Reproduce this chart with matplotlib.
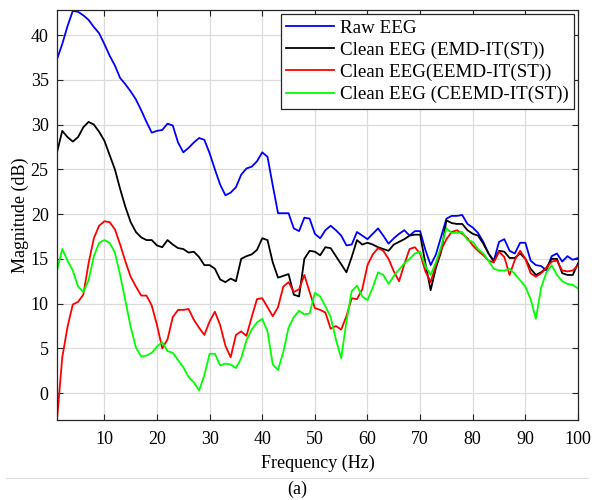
import numpy as np
import matplotlib
matplotlib.use('Agg')
import matplotlib.pyplot as plt
from matplotlib.lines import Line2D

plt.rcParams['font.family'] = ['Liberation Serif', 'DejaVu Serif']

# Frequency axis (Hz)
freq = np.arange(1, 101)

raw_eeg = [37.3, 39.0, 41.0, 42.7, 42.6, 42.2, 41.7, 40.9, 40.2, 39.0,
           37.7, 36.6, 35.2, 34.5, 33.7, 32.8, 31.6, 30.3, 29.1, 29.3,
           29.4, 30.1, 29.9, 28.0, 26.9, 27.4, 28.0, 28.5, 28.3, 26.8,
           25.0, 23.3, 22.1, 22.4, 23.0, 24.4, 25.1, 25.3, 25.9, 26.9,
           26.4, 23.2, 20.1, 20.1, 20.1, 18.4, 18.1, 19.6, 19.5, 17.8,
           17.3, 18.2, 18.7, 18.2, 17.6, 16.5, 16.6, 18.0, 17.6, 17.2,
           17.8, 18.4, 17.6, 16.7, 17.3, 17.8, 18.2, 17.6, 18.1, 18.1,
           16.0, 14.3, 15.5, 17.5, 19.5, 19.8, 19.8, 19.9, 18.9, 18.5,
           17.9, 16.9, 15.6, 14.8, 16.9, 17.2, 15.9, 15.6, 16.8, 16.8,
           14.8, 14.3, 14.2, 13.7, 15.3, 15.6, 14.7, 15.3, 14.9, 15.1]

emd_it = [26.9, 29.3, 28.6, 28.1, 28.6, 29.7, 30.3, 30.0, 29.2, 28.2,
          26.6, 25.0, 22.8, 20.8, 19.1, 18.0, 17.4, 17.1, 17.1, 16.5,
          16.3, 17.1, 16.6, 16.2, 16.1, 15.7, 15.8, 15.2, 14.3, 14.3,
          13.9, 12.7, 12.4, 12.8, 12.5, 15.0, 15.3, 15.5, 16.0, 17.3,
          17.1, 14.6, 12.9, 13.1, 13.3, 11.0, 10.8, 15.0, 15.9, 15.8,
          15.4, 16.3, 16.2, 15.3, 14.4, 13.5, 15.2, 17.1, 16.6, 16.8,
          16.6, 16.3, 16.1, 15.9, 16.6, 16.9, 17.2, 17.6, 17.7, 17.7,
          14.5, 11.5, 14.0, 15.8, 19.3, 19.0, 18.9, 18.9, 18.2, 17.8,
          17.6, 16.7, 15.6, 14.7, 15.9, 15.8, 15.1, 15.1, 15.6, 15.0,
          13.9, 13.2, 13.5, 14.0, 15.0, 15.0, 13.4, 13.2, 13.2, 14.5]

eemd_it = [-3.0, 4.0, 7.4, 9.9, 10.2, 11.0, 14.5, 17.3, 18.7, 19.2,
           19.1, 18.3, 16.6, 14.7, 13.0, 11.9, 10.9, 10.9, 9.8, 7.6,
           5.0, 6.0, 8.5, 9.3, 9.3, 9.4, 8.2, 7.3, 6.5, 8.0,
           9.1, 7.6, 5.3, 4.0, 6.5, 6.9, 6.4, 8.5, 10.5, 10.6,
           9.6, 8.6, 9.6, 11.9, 12.4, 11.3, 11.6, 13.2, 11.3, 9.5,
           9.3, 9.0, 7.2, 7.5, 7.1, 8.6, 10.6, 10.5, 11.6, 14.3,
           15.5, 16.2, 15.9, 15.0, 13.6, 12.5, 14.4, 16.1, 16.3, 15.6,
           13.6, 12.4, 14.3, 16.0, 17.2, 18.0, 18.2, 17.8, 17.3, 16.5,
           15.9, 15.4, 14.8, 14.6, 15.8, 15.2, 13.2, 14.9, 15.9, 15.0,
           13.4, 13.0, 13.4, 14.0, 14.7, 14.8, 13.7, 13.6, 13.7, 14.3]

ceemd_it = [13.7, 16.1, 14.8, 13.7, 11.9, 11.3, 12.6, 15.3, 16.8, 17.1,
            16.8, 15.7, 13.2, 10.3, 7.4, 5.1, 4.1, 4.2, 4.5, 5.2,
            5.7, 4.7, 4.5, 3.7, 2.9, 1.8, 1.2, 0.3, 2.0, 4.4,
            4.4, 3.1, 3.3, 3.2, 2.8, 3.9, 5.9, 7.1, 7.9, 8.3,
            6.9, 3.2, 2.6, 4.6, 7.3, 8.5, 9.2, 8.8, 8.9, 11.2,
            10.8, 9.7, 8.5, 6.0, 3.9, 8.0, 11.4, 12.0, 10.8, 10.4,
            11.8, 13.5, 13.2, 12.2, 13.1, 13.8, 14.5, 15.0, 15.6, 15.8,
            14.2, 13.2, 14.6, 16.4, 18.4, 17.9, 17.9, 18.0, 17.1, 16.9,
            16.1, 15.6, 14.8, 13.9, 13.7, 13.7, 13.9, 13.3, 12.6, 11.9,
            10.5, 8.3, 11.8, 13.5, 14.3, 13.2, 12.5, 12.2, 12.1, 11.7]

labels = ['Raw EEG', 'Clean EEG (EMD-IT(ST))',
          'Clean EEG(EEMD-IT(ST))', 'Clean EEG (CEEMD-IT(ST))']
colors = ['#0000ff', '#000000', '#ff0000', '#00ff00']

fig = plt.figure(figsize=(5.94, 5.0), dpi=100)
ax = fig.add_axes([57 / 594, 80 / 500, 521 / 594, 410 / 500])

for series, lab, col in zip([raw_eeg, emd_it, eemd_it, ceemd_it], labels, colors):
    ax.plot(freq, series, color=col, lw=1.3, label=lab)

ax.set_xlim(1, 100)
ax.set_ylim(-3, 42.8)
ax.set_xticks(np.arange(10, 101, 10))
ax.set_yticks(np.arange(0, 41, 5))
ax.grid(True, color='#dcdcdc', lw=0.9)
ax.set_axisbelow(True)
ax.tick_params(direction='in', top=True, right=True, labelsize=13,
               length=4, color='#262626')
ax.tick_params(axis='x', pad=8)
ax.tick_params(axis='y', pad=6)
for sp in ax.spines.values():
    sp.set_color('#262626')
    sp.set_linewidth(0.9)

ax.set_xlabel('Frequency (Hz)', fontsize=13, labelpad=5)
ax.set_ylabel('Magnitude (dB)', fontsize=13, labelpad=1)

leg = ax.legend(loc='upper right', fontsize=13.7, fancybox=False, framealpha=1,
                edgecolor='#262626', borderaxespad=0.2, borderpad=0.3,
                handlelength=2.5, handletextpad=0.3, labelspacing=0.25)
leg.get_frame().set_linewidth(0.9)

# separator line and caption under the figure
fig.add_artist(Line2D([0.01, 0.99], [1 - 478 / 500] * 2, color='#dddddd', lw=0.8))
fig.text(0.5, 1 - 489 / 500, '(a)', ha='center', va='center', fontsize=13)

fig.savefig('out.png', dpi=100)
